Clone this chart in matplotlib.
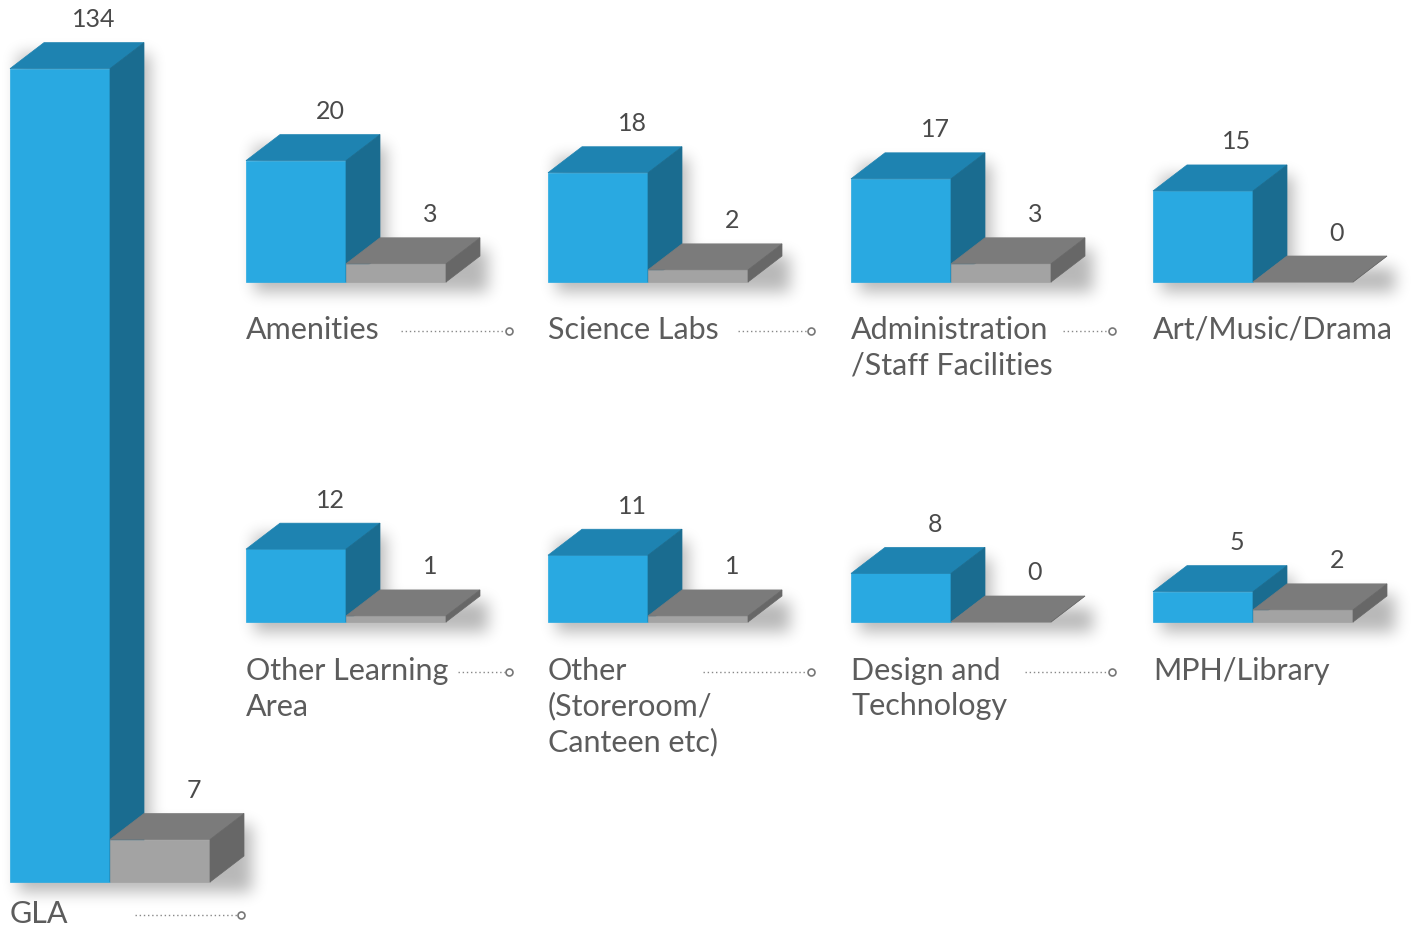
import numpy as np
import matplotlib.pyplot as plt
from matplotlib.patches import Polygon

W, H = 1416, 927

categories = ["GLA", "Amenities", "Science Labs", "Administration\n/Staff Facilities",
              "Art/Music/Drama", "Other Learning\nArea", "Other\n(Storeroom/\nCanteen etc)",
              "Design and\nTechnology", "MPH/Library"]
blue_values = [134, 20, 18, 17, 15, 12, 11, 8, 5]
grey_values = [7, 3, 2, 3, 0, 1, 1, 0, 2]

# layout (pixels): bar left, baseline, label y, leader start / end
panel_left = [10, 246, 548, 851, 1153, 246, 548, 851, 1153]
panel_base = [882, 282, 282, 282, 282, 622, 622, 622, 622]
label_y = [914, 330, 330, 330, 330, 671, 671, 671, 671]
leader_start = [135, 401, 738, 1063, None, 458, 703, 1025, None]
leader_end = [237, 505, 807, 1108, None, 505, 807, 1108, None]

SCALE = 6.07          # px per unit
BW, DX, DY = 100, 34, 26
BLUE = ("#29a9e1", "#1e83b1", "#1a6c90")
GREY = ("#a3a3a3", "#7b7b7b", "#676767")

plt.rcParams['font.family'] = ['Lato', 'DejaVu Sans']

fig = plt.figure(figsize=(W / 100, H / 100), dpi=100)
ax = fig.add_axes([0, 0, 1, 1])
ax.set_xlim(0, W)
ax.set_ylim(H, 0)
ax.axis('off')


def box(x0, base, h, cols):
    front = [(x0, base), (x0 + BW, base), (x0 + BW, base - h), (x0, base - h)]
    top = [(x0, base - h), (x0 + BW, base - h), (x0 + BW + DX, base - h - DY), (x0 + DX, base - h - DY)]
    side = [(x0 + BW, base), (x0 + BW + DX, base - DY), (x0 + BW + DX, base - h - DY), (x0 + BW, base - h)]
    for pts, c in zip((front, top, side), cols):
        ax.add_patch(Polygon(pts, closed=True, fc=c, ec=c, lw=0.5, zorder=3))


def blur1d(a, r, axis):
    a = np.swapaxes(a, 0, axis)
    p = np.pad(a, ((r + 1, r), (0, 0)))
    c = np.cumsum(p, axis=0)
    out = (c[2 * r + 1:] - c[:-2 * r - 1]) / (2 * r + 1)
    return np.swapaxes(out, 0, axis)


# soft drop shadow
mask = np.zeros((H, W))
for L, base, b, g in zip(panel_left, panel_base, blue_values, grey_values):
    tb = int(base - b * SCALE - DY)
    tg = int(base - g * SCALE - DY)
    mask[tb + 12:base + 10, L + 8:L + BW + DX + 6] = 1
    mask[tg + 12:base + 10, L + BW + 8:L + 2 * BW + DX + 8] = 1
for _ in range(3):
    mask = blur1d(mask, 7, 0)
    mask = blur1d(mask, 7, 1)
rgba = np.zeros((H, W, 4))
rgba[..., 3] = np.clip(mask, 0, 1) * 0.28
ax.imshow(rgba, extent=(0, W, H, 0), zorder=1, aspect='auto', interpolation='bilinear')

for i, cat in enumerate(categories):
    L, base = panel_left[i], panel_base[i]
    hb = blue_values[i] * SCALE
    hg = grey_values[i] * SCALE
    box(L, base, hb, BLUE)
    box(L + BW, base, hg, GREY)
    ax.text(L + 84, base - hb - DY - 23, str(blue_values[i]), ha='center', va='center',
            fontsize=18, color='#4a4a4a', zorder=4)
    ax.text(L + BW + 84, base - hg - DY - 23, str(grey_values[i]), ha='center', va='center',
            fontsize=18, color='#4a4a4a', zorder=4)
    for j, line in enumerate(cat.split("\n")):
        ax.text(L, label_y[i] + j * 35.5, line, ha='left', va='center',
                fontsize=22, color='#5c5c5c', zorder=4)
    if leader_start[i] is not None:
        y = label_y[i] + 1
        ax.plot([leader_start[i], leader_end[i]], [y, y], ls=(0, (1, 2)), lw=1,
                color='#888888', zorder=4)
        ax.plot(leader_end[i] + 4, y, 'o', ms=5, mfc='white', mec='#777777', mew=1.2, zorder=4)

fig.savefig("out.png", dpi=100, facecolor='white')
